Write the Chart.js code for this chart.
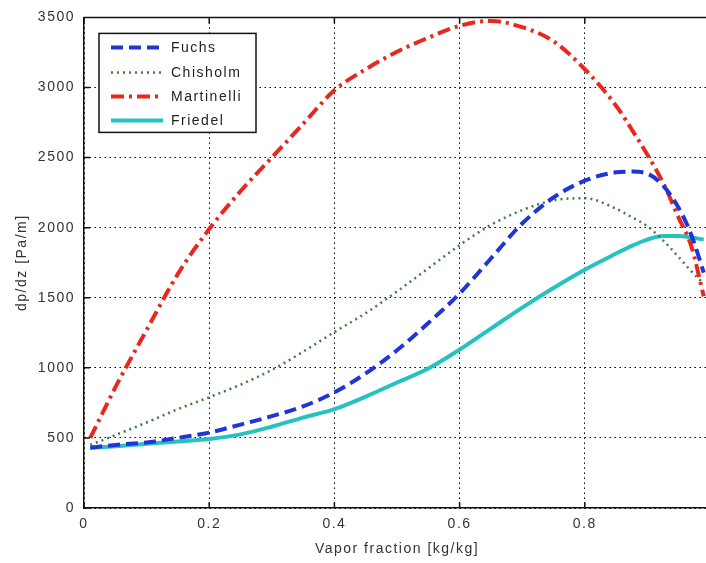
<!DOCTYPE html>
<html>
<head>
<meta charset="utf-8">
<title>Two-phase pressure gradient</title>
<script src="https://cdn.jsdelivr.net/npm/chart.js@4/dist/chart.umd.min.js"></script>
<style>
  html, body { margin: 0; padding: 0; background: #fff; overflow: hidden; }
  canvas { display: block; }
</style>
</head>
<body>
<canvas id="chart" width="720" height="563"></canvas>
<script>
// Vapor fraction samples [kg/kg]
const vaporFraction = [0.01, 0.05, 0.1, 0.15, 0.2, 0.25, 0.3, 0.35, 0.4, 0.45, 0.5, 0.55,
                       0.6, 0.65, 0.7, 0.75, 0.8, 0.85, 0.875, 0.9, 0.925, 0.95, 0.97, 0.99];

// Pressure gradient dp/dz [Pa/m] for each correlation
const fuchs      = [430, 450, 468, 500, 538, 595, 655, 725, 825, 960, 1125, 1320,
                    1530, 1780, 2030, 2215, 2335, 2395, 2400, 2385, 2300, 2140, 1950, 1680];
const chisholm   = [450, 520, 610, 705, 790, 880, 985, 1115, 1255, 1390, 1545, 1710,
                    1875, 2020, 2125, 2195, 2210, 2135, 2075, 2010, 1910, 1790, 1690, 1600];
const martinelli = [500, 860, 1270, 1670, 1990, 2260, 2500, 2740, 2980, 3130, 3255, 3355,
                    3440, 3475, 3430, 3330, 3130, 2870, 2700, 2520, 2320, 2070, 1870, 1510];
const friedel    = [430, 440, 458, 475, 492, 525, 580, 645, 705, 795, 895, 995,
                    1130, 1280, 1430, 1570, 1700, 1815, 1870, 1915, 1940, 1940, 1930, 1915];

// Axis tick values
const xTickValues = [0, 0.2, 0.4, 0.6, 0.8, 1];
const yTickValues = [0, 500, 1000, 1500, 2000, 2500, 3000, 3500];

const toPoints = (ys) => vaporFraction.map((x, i) => ({ x: x, y: ys[i] }));

const FONT = "'Liberation Sans', Arial, Helvetica, sans-serif";
const TEXT_SPACING = '1.5px';
Chart.defaults.font.family = FONT;
Chart.defaults.font.size = 14;
Chart.defaults.color = '#333';

// Helvetica-like text is drawn with a little extra tracking
const tracking = {
  id: 'tracking',
  beforeUpdate(chart) { chart.ctx.letterSpacing = TEXT_SPACING; },
  beforeLayout(chart) { chart.ctx.letterSpacing = TEXT_SPACING; },
  beforeDraw(chart) { chart.ctx.letterSpacing = TEXT_SPACING; }
};

// Solid top border and inward tick marks
const frame = {
  id: 'frame',
  afterDraw(chart) {
    const { ctx, chartArea: a, scales } = chart;
    const len = 6;
    ctx.save();
    ctx.strokeStyle = '#111';
    ctx.lineWidth = 1.5;
    ctx.setLineDash([]);
    ctx.beginPath();
    ctx.moveTo(a.left, a.top);
    ctx.lineTo(a.right, a.top);
    scales.x.ticks.forEach(t => {
      const px = scales.x.getPixelForValue(t.value);
      ctx.moveTo(px, a.bottom); ctx.lineTo(px, a.bottom - len);
      ctx.moveTo(px, a.top);    ctx.lineTo(px, a.top + len);
    });
    scales.y.ticks.forEach(t => {
      const py = scales.y.getPixelForValue(t.value);
      ctx.moveTo(a.left, py); ctx.lineTo(a.left + len, py);
    });
    ctx.stroke();
    ctx.restore();
  }
};

// Boxed legend in the upper-left corner of the plot
const boxLegend = {
  id: 'boxLegend',
  afterDraw(chart) {
    const { ctx, chartArea: a } = chart;
    const x0 = a.left + 15, y0 = a.top + 16, w = 157, h = 99;
    const rowY = [14, 39, 63, 87];
    ctx.save();
    ctx.letterSpacing = TEXT_SPACING;
    ctx.fillStyle = '#fff';
    ctx.fillRect(x0, y0, w, h);
    ctx.strokeStyle = '#111';
    ctx.lineWidth = 1.5;
    ctx.setLineDash([]);
    ctx.strokeRect(x0, y0, w, h);
    ctx.font = '14px ' + FONT;
    ctx.textBaseline = 'middle';
    ctx.textAlign = 'left';
    chart.data.datasets.forEach((ds, i) => {
      const y = y0 + rowY[i];
      ctx.strokeStyle = ds.borderColor;
      ctx.lineWidth = ds.borderWidth;
      ctx.setLineDash(ds.borderDash || []);
      ctx.beginPath();
      ctx.moveTo(x0 + 12, y);
      ctx.lineTo(x0 + 64, y);
      ctx.stroke();
      ctx.fillStyle = '#222';
      ctx.fillText(ds.label, x0 + 72, y + 1);
    });
    ctx.restore();
  }
};

const gridStyle = { color: '#000', lineWidth: 1, drawTicks: false };
const borderStyle = { display: true, color: '#111', width: 1.5, dash: [1.5, 3.5] };

new Chart(document.getElementById('chart'), {
  type: 'line',
  data: {
    datasets: [
      { label: 'Fuchs', data: toPoints(fuchs), borderColor: '#1f35d6',
        borderWidth: 4, borderDash: [12, 6] },
      { label: 'Chisholm', data: toPoints(chisholm), borderColor: '#3c7f3c',
        borderWidth: 2.5, borderDash: [2, 4] },
      { label: 'Martinelli', data: toPoints(martinelli), borderColor: '#e8281e',
        borderWidth: 4, borderDash: [13, 5, 3, 5] },
      { label: 'Friedel', data: toPoints(friedel), borderColor: '#26c2c2',
        borderWidth: 4 }
    ]
  },
  options: {
    responsive: false,
    animation: false,
    events: [],
    datasets: {
      line: { pointRadius: 0, fill: false, cubicInterpolationMode: 'monotone', borderCapStyle: 'butt' }
    },
    layout: { padding: { top: 15, right: 10, bottom: 0, left: 0 } },
    plugins: { legend: { display: false }, tooltip: { enabled: false } },
    scales: {
      x: {
        type: 'linear', min: 0, max: 1,
        afterBuildTicks(scale) { scale.ticks = xTickValues.map(v => ({ value: v })); },
        afterFit(scale) { scale.height = 55; },
        grid: gridStyle,
        border: borderStyle,
        ticks: {
          padding: 8, maxRotation: 0, autoSkip: false, color: '#333',
          callback: (v) => (v >= 1 ? '' : String(v))
        },
        title: { display: true, text: 'Vapor fraction [kg/kg]', color: '#333',
                 font: { size: 14 }, padding: { top: 0, bottom: 5 } }
      },
      y: {
        type: 'linear', min: 0, max: 3500,
        afterBuildTicks(scale) { scale.ticks = yTickValues.map(v => ({ value: v })); },
        afterFit(scale) { scale.width = 84; },
        grid: gridStyle,
        border: borderStyle,
        ticks: { padding: 9, autoSkip: false, color: '#333', callback: (v) => String(v) },
        title: { display: true, text: 'dp/dz [Pa/m]', color: '#333',
                 font: { size: 14 }, padding: { top: 14, bottom: 0 } }
      }
    }
  },
  plugins: [tracking, frame, boxLegend]
});
</script>
</body>
</html>
